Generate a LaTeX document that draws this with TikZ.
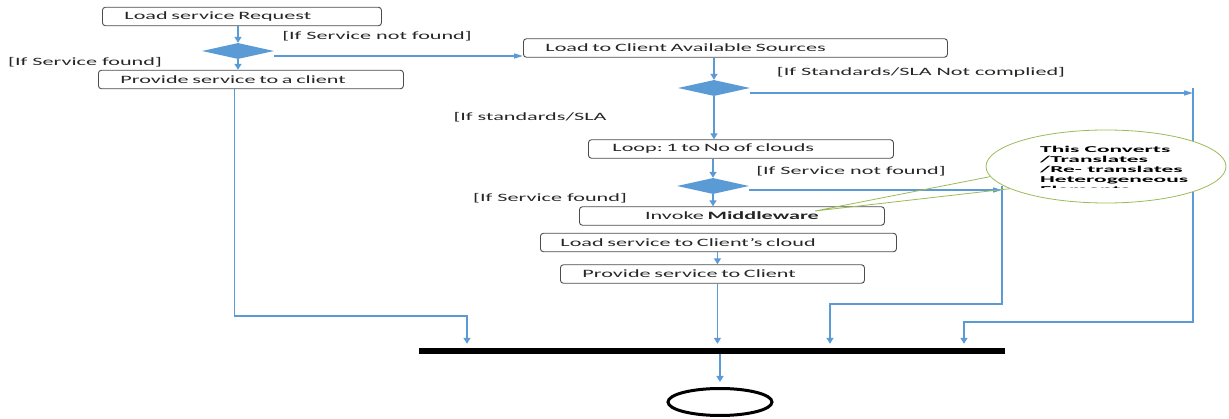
\documentclass[tikz,border=0pt]{standalone}
\usepackage{fontspec}
\setmainfont{Carlito}[FakeStretch=1.98]
\newfontfamily\notefont{Carlito}[FakeStretch=2.6]
\usepackage{tikz}
\usetikzlibrary{arrows.meta,calc,positioning,shapes.geometric}
\definecolor{flowblue}{RGB}{91,155,213}
\definecolor{notegreen}{RGB}{155,187,89}

\begin{document}
\begin{tikzpicture}[x=1pt,y=-1pt,>={Triangle[length=6pt,width=7pt]},
  font=\fontsize{11.2}{13}\selectfont,
  act/.style={draw=black!70,line width=0.9pt,rounded corners=3pt,minimum height=18.5pt,
    inner xsep=22pt,inner ysep=0pt,align=left,anchor=west,text=black!85},
  dec/.style={diamond,fill=flowblue,inner sep=0pt,minimum width=72pt,minimum height=16pt},
  flow/.style={draw=flowblue,line width=1.4pt,->},
  flowh/.style={draw=flowblue,line width=1.4pt,-{Triangle[length=9pt,width=5pt]}},
  guard/.style={inner sep=0pt,text=black!85}]
  \useasboundingbox (0,0) rectangle (1229,419);

  % activities and decisions
  \node[act,text width=235pt] (req) at (102,16.5) {Load service Request};
  \node[dec] (d1) at (238,51) {};
  \node[act,text width=261pt] (prov1) at (98,79.5) {Provide service to a client};
  \node[act,text width=380pt] (lacs) at (523,48) {Load to Client Available Sources};
  \node[dec] (d2) at (714,88) {};
  \node[act,text width=257pt,inner xsep=24pt] (loop) at (588,149) {Loop:\ 1 to No of clouds};
  \node[dec] (d3) at (713,186) {};
  \node[act,text width=261pt,align=center] (mw) at (579,216) {Invoke \textbf{Middleware}};
  \node[act,text width=316pt,inner xsep=20pt] (lsc) at (540,242.5) {Load service to Client’s cloud};
  \node[act,text width=260pt] (psc) at (560,274) {Provide service to Client};
  \node[fill=black,minimum width=586pt,minimum height=6pt,inner sep=0pt] (bar) at (712,351) {};
  \node[ellipse,draw=black,line width=3pt,minimum width=104pt,minimum height=27pt,inner sep=0pt] (stop) at (720,402) {};

  % guards
  \node[guard] (g1) at (377,36) {[If Service not found]};
  \node[guard] (g2) at (85,62) {[If Service found]};
  \node[guard] (g3) at (921,72) {[If Standards/SLA Not complied]};
  \node[guard] (g4) at (530,117) {[If standards/SLA};
  \node[guard] (g5) at (851,171) {[If Service not found]};
  \node[guard] (g6) at (550,198) {[If Service found]};

  \coordinate (jL) at (467,316);
  \coordinate (slaR) at (1193,93);
  \coordinate (slaT) at (1193,88);
  \coordinate (jR) at (964,322);
  \coordinate (svR) at (1002,190);
  \coordinate (svT) at (1002,186);
  \coordinate (jM) at (830,304);

  \draw[flow] (d1.north |- req.south) -- (d1.north);
  \draw[flow] (d1.south) -- (d1.south |- prov1.north);
  \draw[flowh] ([yshift=-5pt]d1.east) -- ([yshift=-5pt]d1.east -| lacs.west);
  \draw[flow] (d2.north |- lacs.south) -- (d2.north);
  \draw[flow] (d2.south) -- (d2.south |- loop.north);
  \draw[flowh] ([yshift=-5pt]d2.east) -- (slaR);
  \draw[flow] (d3.north |- loop.south) -- (d3.north);
  \draw[flow] (d3.south) -- (d3.south |- mw.north);
  \draw[flowh] ([yshift=-4pt]d3.east) -- (svR);
  \draw[flow] ([xshift=5pt]psc.north |- lsc.south) -- ([xshift=5pt]psc.north);

  % joins onto the bar
  \draw[flow,shorten >=4pt] ([xshift=-16.5pt]prov1.south) |- (jL) -- (jL |- bar.north);
  \draw[flow,shorten >=4pt] ([xshift=5pt]psc.south) -- ([xshift=5pt]psc.south |- bar.north);
  \draw[flow,shorten >=4pt] (svT) |- (jM) -- (jM |- bar.north);
  \draw[flow,shorten >=4pt] (slaT) |- (jR) -- (jR |- bar.north);
  \draw[flow,shorten >=5pt] (stop.north |- bar.south) -- (stop.north);

  % callout
  \node[ellipse,draw=notegreen,fill=white,line width=0.8pt,minimum width=240pt,minimum height=73pt,inner sep=0pt] (note) at (1106,166.5) {};
  \coordinate (tip) at (815,211);
  \draw[notegreen,line width=0.8pt] (note.185) -- (tip) -- (note.193);
  \begin{scope}
    \clip (1030,135) rectangle (1229,187.5);
    \node[anchor=north west,align=left,inner sep=0pt,font=\notefont\fontsize{9}{10}\selectfont\bfseries] (notetext) at (1040,146)
      {This Converts\\/Translates\\/Re- translates\\Heterogeneous\\Elements};
  \end{scope}
\end{tikzpicture}
\end{document}
